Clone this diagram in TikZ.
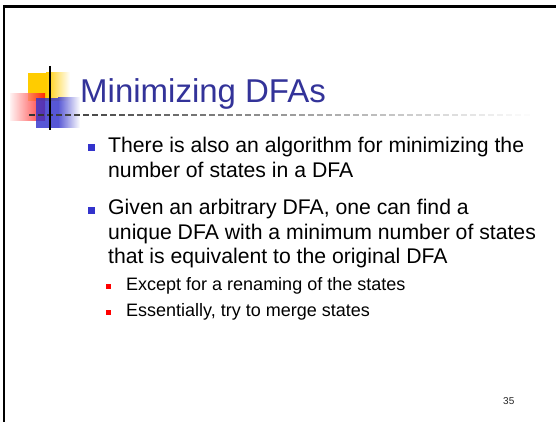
\documentclass[tikz,border=0pt]{standalone}
\usepackage{fontspec}
\setmainfont{Liberation Sans}
\definecolor{titleblue}{HTML}{333399}
\definecolor{bulletblue}{HTML}{3333CC}
\definecolor{logoyellow}{HTML}{FFCC00}
\definecolor{logored}{HTML}{FF0000}
\begin{document}
\begin{tikzpicture}[x=1pt,y=-1pt,
  titletext/.style={anchor=base west, inner sep=0pt, text=titleblue,
    font=\fontsize{33}{40}\selectfont},
  maintext/.style={anchor=base west, inner sep=0pt, text=black,
    font=\fontsize{21.2}{25}\selectfont},
  subtext/.style={anchor=base west, inner sep=0pt, text=black,
    font=\fontsize{18}{21}\selectfont},
  bluebullet/.style={fill=bulletblue},
  redbullet/.style={fill=logored}]
\useasboundingbox (0,0) rectangle (556,422);
\fill[white] (0,0) rectangle (556,422);

% slide frame (top and left edges)
\draw[line width=2.2pt] (4,422) -- (4,6.5) -- (556,6.5);

% logo: yellow, red and blue squares
\fill[logoyellow] (28,73) rectangle (46,101);
\shade[left color=logoyellow, right color=white] (46,73) rectangle (70,101);
\shade[left color=logored!6, right color=logored, opacity=0.8] (10,94) rectangle (45,121);
\begin{scope}[opacity=0.82]
  \fill[bulletblue] (36,98) rectangle (58,128);
  \shade[left color=bulletblue, right color=white] (58,98) rectangle (80,128);
\end{scope}

% fading dashed rule under the title
\foreach \i in {0,...,55}{
  \pgfmathsetmacro\p{80-80*\i/56}
  \draw[line width=1.8pt, black!\p] (29+9*\i,115) -- ++(6,0);
}
% vertical stroke through the logo
\draw[line width=2pt] (50,66) -- (50,130);

% title
\node[titletext] (title) at (80,103) {Minimizing DFAs};

% first bullet
\fill[bluebullet] (88,144.5) rectangle (95,151.5);
\node[maintext] (l1) at (108,152.5) {There is also an algorithm for minimizing the};
\node[maintext] (l2) at (108,177) {number of states in a DFA};

% second bullet
\fill[bluebullet] (88,206.5) rectangle (95,213.5);
\node[maintext] (l3) at (108,214.5) {Given an arbitrary DFA, one can find a};
\node[maintext] (l4) at (108,239) {unique DFA with a minimum number of states};
\node[maintext] (l5) at (108,263.5) {that is equivalent to the original DFA};

% sub-bullets
\fill[redbullet] (106,284) rectangle (111,289);
\node[subtext] (s1) at (126,290.5) {Except for a renaming of the states};
\fill[redbullet] (106,310) rectangle (111,315);
\node[subtext] (s2) at (126,316.5) {Essentially, try to merge states};

% page number
\node[anchor=base west, inner sep=0pt, font=\fontsize{10}{12}\selectfont, text=black!85] (page) at (503,404) {35};
\end{tikzpicture}
\end{document}
